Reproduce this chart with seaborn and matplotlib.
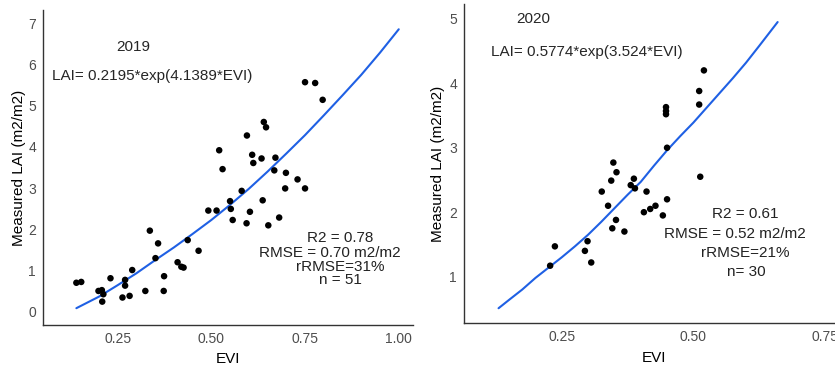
import matplotlib
matplotlib.use("Agg")
import pandas as pd
import seaborn as sns
import matplotlib.pyplot as plt

# 2019 measurements
evi_2019 = [0.750, 0.777, 0.797, 0.640, 0.646, 0.595, 0.521, 0.609, 0.634, 0.671,
            0.612, 0.530, 0.668, 0.699, 0.730, 0.697, 0.750, 0.581, 0.550, 0.637,
            0.492, 0.514, 0.552, 0.557, 0.603, 0.594, 0.681, 0.652, 0.336, 0.358,
            0.437, 0.466, 0.351, 0.410, 0.420, 0.426, 0.374, 0.289, 0.231, 0.270,
            0.270, 0.140, 0.153, 0.199, 0.208, 0.212, 0.209, 0.263, 0.282, 0.324,
            0.373]
lai_2019 = [5.58, 5.56, 5.15, 4.61, 4.48, 4.28, 3.92, 3.81, 3.72, 3.74,
            3.61, 3.46, 3.43, 3.37, 3.21, 2.99, 2.99, 2.93, 2.68, 2.70,
            2.45, 2.45, 2.49, 2.22, 2.42, 2.14, 2.28, 2.09, 1.96, 1.65,
            1.73, 1.47, 1.29, 1.19, 1.08, 1.06, 0.85, 1.00, 0.80, 0.76,
            0.62, 0.69, 0.71, 0.49, 0.51, 0.41, 0.23, 0.33, 0.37, 0.49,
            0.49]

# 2020 measurements
evi_2020 = [0.520, 0.511, 0.511, 0.448, 0.448, 0.448, 0.450, 0.348, 0.354, 0.513,
            0.387, 0.344, 0.381, 0.389, 0.326, 0.411, 0.450, 0.338, 0.428, 0.418,
            0.406, 0.442, 0.353, 0.346, 0.369, 0.299, 0.237, 0.294, 0.306, 0.228]
lai_2020 = [4.20, 3.88, 3.67, 3.63, 3.57, 3.52, 3.00, 2.77, 2.62, 2.55,
            2.52, 2.49, 2.42, 2.37, 2.32, 2.32, 2.20, 2.10, 2.10, 2.05,
            2.00, 1.95, 1.88, 1.75, 1.70, 1.55, 1.47, 1.40, 1.22, 1.17]

# fitted curves
fit_evi_2019 = [0.14, 0.17, 0.20, 0.25, 0.30, 0.35, 0.40, 0.45, 0.50, 0.55,
                0.60, 0.65, 0.70, 0.75, 0.80, 0.85, 0.90, 0.95, 1.00]
fit_lai_2019 = [0.07, 0.21, 0.35, 0.63, 0.92, 1.24, 1.55, 1.88, 2.22, 2.59,
                2.98, 3.40, 3.84, 4.29, 4.77, 5.26, 5.76, 6.30, 6.87]
fit_evi_2020 = [0.13, 0.15, 0.175, 0.20, 0.225, 0.25, 0.275, 0.30, 0.325, 0.35,
                0.375, 0.40, 0.425, 0.45, 0.475, 0.50, 0.525, 0.55, 0.575, 0.60,
                0.625, 0.66]
fit_lai_2020 = [0.51, 0.64, 0.80, 0.98, 1.14, 1.30, 1.47, 1.65, 1.85, 2.06,
                2.27, 2.47, 2.72, 2.96, 3.18, 3.39, 3.62, 3.85, 4.08, 4.32,
                4.58, 4.95]

sns.set_style("white")
plt.rcParams["font.family"] = ["Liberation Sans", "DejaVu Sans"]

DOT = "black"
LINE = "#1F60E4"
TICK_COL = "#4D4D4D"


def draw_panel(ax, evi, lai, fit_x, fit_y):
    pts = pd.DataFrame({"EVI": evi, "LAI": lai})
    fit = pd.DataFrame({"EVI": fit_x, "LAI": fit_y})
    sns.lineplot(data=fit, x="EVI", y="LAI", ax=ax, color=LINE, lw=1.5,
                 sort=False, estimator=None)
    sns.scatterplot(data=pts, x="EVI", y="LAI", ax=ax, color=DOT, s=22,
                    edgecolor="none", zorder=3)
    for side in ["top", "right"]:
        ax.spines[side].set_visible(False)
    for side in ["left", "bottom"]:
        ax.spines[side].set_color("#333333")
        ax.spines[side].set_linewidth(1.0)
    ax.tick_params(axis="both", length=3, width=0.9, color="#333333",
                   labelcolor=TICK_COL, labelsize=10, pad=2, direction="out")
    ax.set_xlabel("EVI", fontsize=11, color="black")
    ax.set_ylabel("Measured LAI (m2/m2)", fontsize=11, color="black")


fig = plt.figure(figsize=(8.35, 3.69), dpi=100)
ax1 = fig.add_axes([43 / 835, 1 - 325 / 369, 370 / 835, 315 / 369])
ax2 = fig.add_axes([464 / 835, 1 - 323 / 369, 380 / 835, 319 / 369])

draw_panel(ax1, evi_2019, lai_2019, fit_evi_2019, fit_lai_2019)
ax1.set_xlim(0.051, 1.038)
ax1.set_ylim(-0.34, 7.34)
ax1.set_xticks([0.25, 0.50, 0.75, 1.00])
ax1.set_xticklabels(["0.25", "0.50", "0.75", "1.00"])
ax1.set_yticks(range(0, 8))
ax1.xaxis.set_label_coords(0.5, -0.085)
ax1.yaxis.set_label_coords(-0.047, 0.5)

ax1.text(0.291, 6.44, "2019", ha="center", va="center", fontsize=11)
ax1.text(0.343, 5.74, "LAI= 0.2195*exp(4.1389*EVI)", ha="center", va="center", fontsize=11)
ax1.text(0.845, 1.77, "R2 = 0.78", ha="center", va="center", fontsize=11, color="#222222")
ax1.text(0.815, 1.42, "RMSE = 0.70 m2/m2", ha="center", va="center", fontsize=11, color="#222222")
ax1.text(0.845, 1.08, "rRMSE=31%", ha="center", va="center", fontsize=11, color="#222222")
ax1.text(0.845, 0.76, "n = 51", ha="center", va="center", fontsize=11, color="#222222")

draw_panel(ax2, evi_2020, lai_2020, fit_evi_2020, fit_lai_2020)
ax2.set_xlim(0.0644, 0.786)
ax2.set_ylim(0.281, 5.23)
ax2.set_xticks([0.25, 0.50, 0.75])
ax2.set_xticklabels(["0.25", "0.50", "0.75"])
ax2.set_yticks(range(1, 6))
ax2.xaxis.set_label_coords(0.5, -0.088)
ax2.yaxis.set_label_coords(-0.050, 0.5)

ax2.text(0.196, 4.99, "2020", ha="center", va="center", fontsize=11)
ax2.text(0.298, 4.48, "LAI= 0.5774*exp(3.524*EVI)", ha="center", va="center", fontsize=11)
ax2.text(0.599, 1.97, "R2 = 0.61", ha="center", va="center", fontsize=11, color="#222222")
ax2.text(0.579, 1.66, "RMSE = 0.52 m2/m2", ha="center", va="center", fontsize=11, color="#222222")
ax2.text(0.598, 1.36, "rRMSE=21%", ha="center", va="center", fontsize=11, color="#222222")
ax2.text(0.600, 1.07, "n= 30", ha="center", va="center", fontsize=11, color="#222222")

fig.savefig("out.png", dpi=100)
